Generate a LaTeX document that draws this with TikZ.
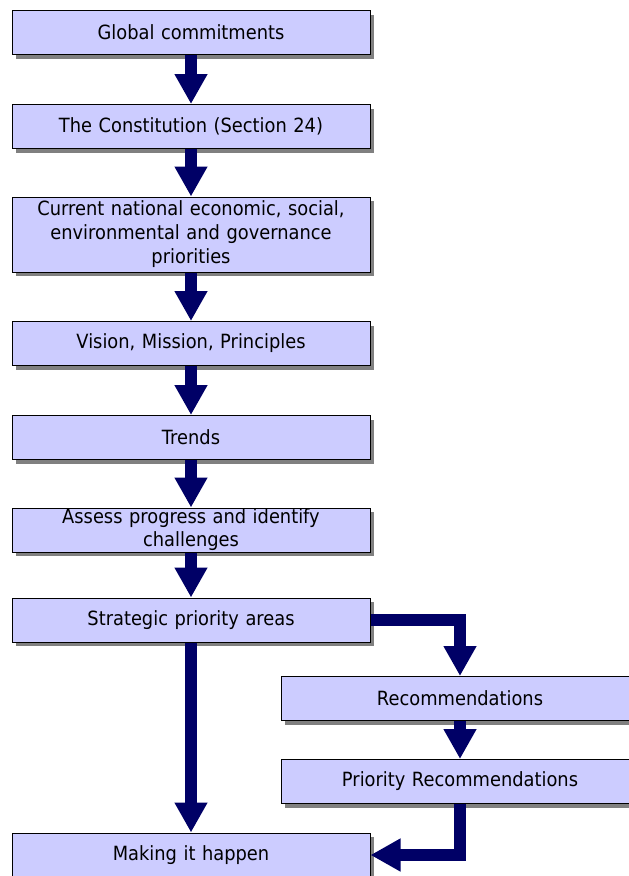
\documentclass[tikz,border=0pt]{standalone}
\usepackage{fontspec}
\setmainfont{DejaVu Sans}[FakeStretch=0.91]
\usepackage{tikz}
\usetikzlibrary{arrows.meta, calc, positioning, shadows}
\definecolor{boxfill}{HTML}{CCCCFF}
\definecolor{arrnavy}{HTML}{000066}

\begin{document}
\begin{tikzpicture}[x=1pt,y=-1pt,
	stage/.style={draw=black, line width=1pt, fill=boxfill, minimum width=358pt,
		minimum height=44pt, inner sep=1pt, align=center, text width=350pt,
		font=\fontsize{19.6}{24}\selectfont,
		drop shadow={shadow xshift=4pt, shadow yshift=-4pt, fill=gray, opacity=1}},
	flow/.style={draw=arrnavy, line width=12pt, line join=miter,
		-{Triangle[length=30pt, width=31pt]}}]
	\useasboundingbox (0,0) rectangle (629,876);

	\coordinate (G)  at (191,32.5);
	\coordinate (C)  at (191,126.5);
	\coordinate (N)  at (191,234.5);
	\coordinate (V)  at (191,343.5);
	\coordinate (T)  at (191,437.5);
	\coordinate (A)  at (191,530);
	\coordinate (S)  at (191,620);
	\coordinate (R)  at (460,698.5);
	\coordinate (P)  at (460,781.5);
	\coordinate (M)  at (191,855);

	\node[stage] (glob) at (G) {Global commitments};
	\node[stage] (const) at (C) {The Constitution (Section 24)};
	\node[stage, minimum height=75pt] (natl) at (N) {Current national economic, social,\\environmental and governance\\priorities};
	\node[stage] (vis) at (V) {Vision, Mission, Principles};
	\node[stage] (trend) at (T) {Trends};
	\node[stage, font=\fontsize{19.6}{23}\selectfont] (assess) at (A) {Assess progress and identify\\challenges};
	\node[stage] (strat) at (S) {Strategic priority areas};
	\node[stage] (recom) at (R) {Recommendations};
	\node[stage] (prio) at (P) {Priority Recommendations};
	\node[stage] (make) at (M) {Making it happen};

	\draw[flow] (glob) -- (const);
	\draw[flow] (const) -- (natl);
	\draw[flow] (natl) -- (vis);
	\draw[flow] (vis) -- (trend);
	\draw[flow] (trend) -- (assess);
	\draw[flow] (assess) -- (strat);
	\draw[flow] (strat) -- (make);
	\draw[flow] (strat.east) -| (recom.north);
	\draw[flow] (recom) -- (prio);
	\draw[flow] (prio.south) |- (make.east);
\end{tikzpicture}
\end{document}
